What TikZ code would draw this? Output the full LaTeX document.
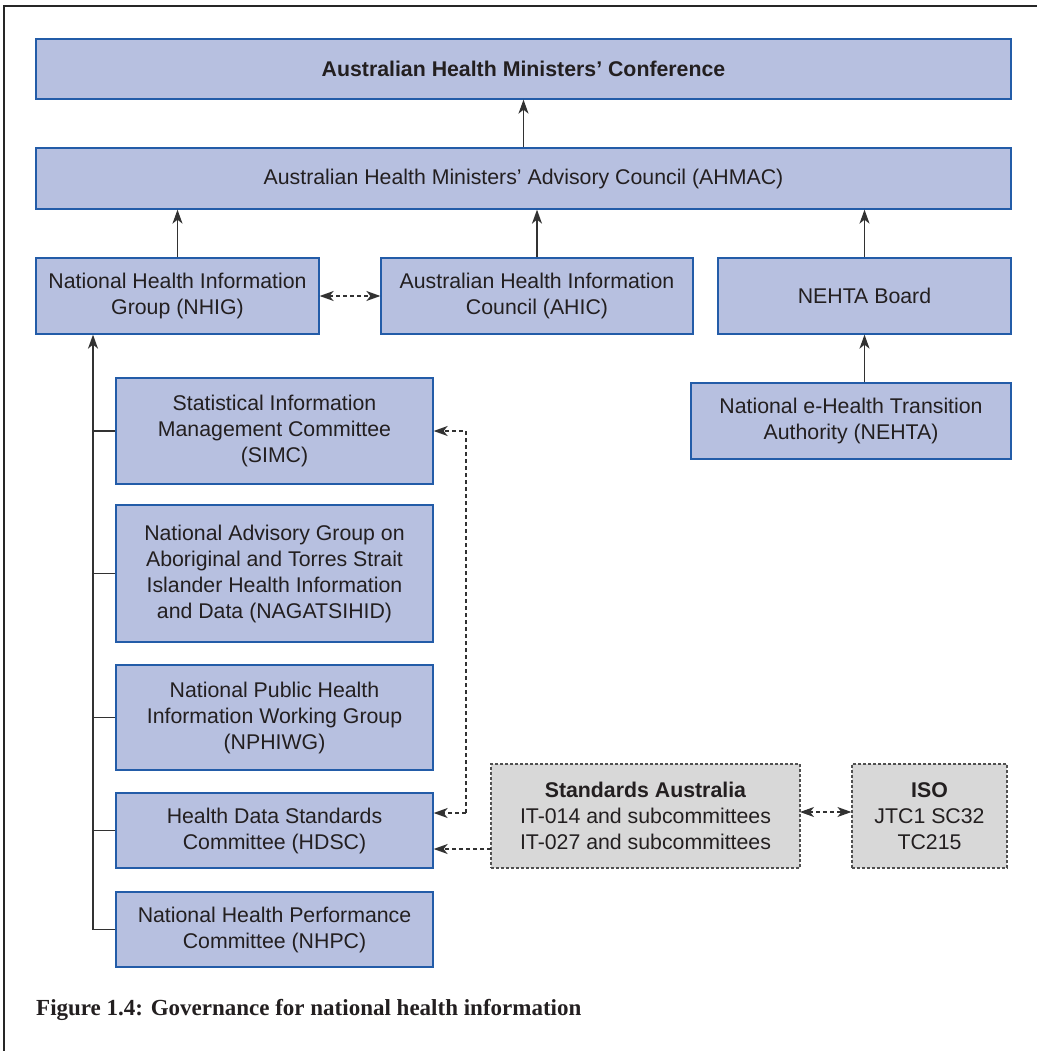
\documentclass[tikz,border=0pt]{standalone}
\usepackage{fontspec}
\setmainfont{Liberation Sans}
\newfontfamily\capfont{Liberation Serif}
\usetikzlibrary{arrows.meta}
\definecolor{boxfill}{RGB}{183,192,224}
\definecolor{boxline}{RGB}{35,92,168}
\definecolor{grayfill}{RGB}{216,216,216}
\definecolor{grayline}{RGB}{80,80,80}
\definecolor{txt}{RGB}{35,31,32}
\definecolor{lnk}{RGB}{50,50,50}
\tikzset{
  bluebox/.style={draw=boxline, fill=boxfill, line width=1.3pt, align=center,
    inner sep=0pt, text=txt, font=\fontsize{21.3}{26}\selectfont},
  graybox/.style={draw=grayline, fill=grayfill, line width=1.2pt, dash pattern=on 3pt off 2pt,
    align=center, inner sep=0pt, text=txt, font=\fontsize{21.3}{26}\selectfont},
  tip/.style={-{Stealth[length=14pt,width=10pt,inset=4pt]}},
  solidarr/.style={tip, draw=lnk, line width=1.4pt},
  dasharr/.style={tip, draw=lnk, line width=1.4pt, dash pattern=on 4pt off 3pt},
  dashboth/.style={{Stealth[length=14pt,width=10pt,inset=4pt]}-{Stealth[length=14pt,width=10pt,inset=4pt]},
    draw=lnk, line width=1.4pt, dash pattern=on 4pt off 3pt},
  branch/.style={draw=lnk, line width=1.4pt},
  frame/.style={draw=black!85, line width=1.2pt}
}
\begin{document}
\begin{tikzpicture}[x=1pt,y=-1pt]
\useasboundingbox (0,0) rectangle (1037,1051);
\draw[frame] (4,1051) -- (4,6) -- (1037,6);

\node[bluebox, minimum width=975pt, minimum height=60pt] (ahmc) at (523.5,69)
  {\textbf{Australian Health Ministers’ Conference}};
\node[bluebox, minimum width=975pt, minimum height=61pt] (ahmac) at (523.5,178.5)
  {Australian Health Ministers’ Advisory Council (AHMAC)};
\node[bluebox, minimum width=283pt, minimum height=76pt] (nhig) at (177.5,296)
  {National Health Information\\Group (NHIG)};
\node[bluebox, minimum width=312pt, minimum height=76pt] (ahic) at (537,296)
  {Australian Health Information\\Council (AHIC)};
\node[bluebox, minimum width=293pt, minimum height=76pt] (board) at (864.5,296)
  {NEHTA Board};
\node[bluebox, minimum width=320pt, minimum height=76pt] (nehta) at (851,421)
  {National e-Health Transition\\Authority (NEHTA)};
\node[bluebox, minimum width=317pt, minimum height=106pt] (simc) at (274.5,431)
  {Statistical Information\\Management Committee\\(SIMC)};
\node[bluebox, minimum width=317pt, minimum height=137pt] (nag) at (274.5,573.5)
  {National Advisory Group on\\Aboriginal and Torres Strait\\Islander Health Information\\and Data (NAGATSIHID)};
\node[bluebox, minimum width=317pt, minimum height=105pt] (nphiwg) at (274.5,717.5)
  {National Public Health\\Information Working Group\\(NPHIWG)};
\node[bluebox, minimum width=317pt, minimum height=75pt] (hdsc) at (274.5,830.5)
  {Health Data Standards\\Committee (HDSC)};
\node[bluebox, minimum width=317pt, minimum height=75pt] (nhpc) at (274.5,929.5)
  {National Health Performance\\Committee (NHPC)};
\node[graybox, minimum width=309pt, minimum height=104pt] (sa) at (645.5,816)
  {\textbf{Standards Australia}\\IT-014 and subcommittees\\IT-027 and subcommittees};
\node[graybox, minimum width=155pt, minimum height=104pt] (iso) at (929.5,816)
  {\textbf{ISO}\\JTC1 SC32\\TC215};

\node[anchor=base west, inner sep=0pt, text=txt, font=\capfont\bfseries\fontsize{23}{28}\selectfont] (cap) at (36,1015)
  {Figure 1.4: Governance for national health information};

% solid arrows
\draw[solidarr] (ahmac.north) -- (ahmc.south);
\draw[solidarr] (nhig.north) -- (nhig.north |- ahmac.south);
\draw[solidarr] (ahic.north) -- (ahic.north |- ahmac.south);
\draw[solidarr] (board.north) -- (board.north |- ahmac.south);
\draw[solidarr] (board.south |- nehta.north) -- (board.south);

% left tree
\coordinate (trunk) at (93,929.5);
\draw[solidarr] (trunk) -- (trunk |- nhig.south);
\draw[branch] (simc.west) -- (simc.west -| trunk);
\draw[branch] (nag.west) -- (nag.west -| trunk);
\draw[branch] (nphiwg.west) -- (nphiwg.west -| trunk);
\draw[branch] (hdsc.west) -- (hdsc.west -| trunk);
\draw[branch] (nhpc.west) -- (nhpc.west -| trunk);

% dashed links
\draw[dashboth] (nhig.east) -- (ahic.west);
\coordinate (j) at (466,813);
\draw[dasharr] (j) |- (simc.east);
\draw[dasharr] (j) -- (j -| hdsc.east);
\coordinate (sa2) at (491,849);
\draw[dasharr] (sa2) -- (sa2 -| hdsc.east);
\coordinate (sa3) at (800,812);
\draw[dashboth] (sa3) -- (sa3 -| iso.west);
\end{tikzpicture}
\end{document}
